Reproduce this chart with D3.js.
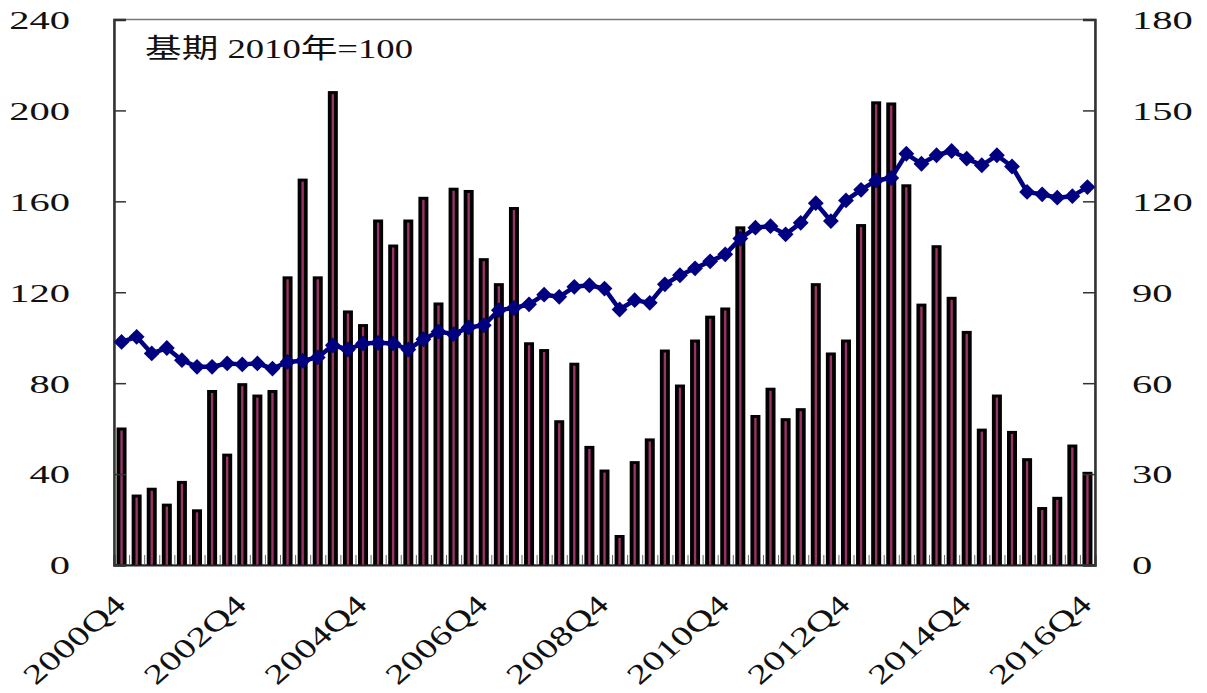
<!DOCTYPE html>
<html>
<head>
<meta charset="utf-8">
<script src="https://cdn.jsdelivr.net/npm/d3@7"></script>
<style>
  body { margin: 0; background: #fff; }
  text { font-family: "Liberation Serif", "Times New Roman", serif; fill: #111; }
</style>
</head>
<body>
<div id="chart"></div>
<script>
// Quarters 2000Q4 .. 2016Q4
const quarters = ['2000Q4'];
for (let y = 2001; y <= 2016; y++) {
  for (let q = 1; q <= 4; q++) quarters.push(y + 'Q' + q);
}

const tickLabels = ['2000Q4', '2002Q4', '2004Q4', '2006Q4', '2008Q4',
  '2010Q4', '2012Q4', '2014Q4', '2016Q4'];

// bars, left axis
const barValues = [60.5, 31, 34, 27, 37, 24.5, 77, 49, 80, 75, 77, 127, 170, 127, 208.5,
  112, 106, 152, 141, 152, 162, 115.5, 166, 165, 135, 124, 157.5, 98, 95, 63.7,
  89, 52.4, 42, 13.2, 45.7, 55.7, 94.8, 79.4, 99.2, 109.7, 113.3, 149, 66, 78, 64.6,
  69, 124, 93.5, 99.2, 150, 204, 203.5, 167.5, 115, 140.7, 118, 103, 60, 75, 59,
  47, 25.5, 30, 53, 41];

// line, right axis
const indexValues = [73.6, 75.3, 69.8, 71.6, 67.6, 65.4, 65.4, 66.5, 66.2, 66.5,
  64.8, 67.0, 67.4, 68.5, 72.5, 71.1, 73.1, 73.3, 73.1, 71.1,
  74.5, 77.0, 76.2, 78.4, 79.1, 84.1, 84.8, 86.0, 89.2, 88.5,
  91.8, 92.3, 91.2, 84.3, 87.4, 86.5, 92.6, 95.6, 97.9, 100.2,
  102.5, 107.7, 111.3, 111.8, 109.1, 112.9, 119.4, 113.5, 120.3, 123.8,
  126.9, 127.7, 135.7, 132.4, 135.2, 136.6, 134.1, 131.9, 135.2, 131.5,
  123.1, 122.3, 121.2, 121.7, 124.7];

const leftTicks = [0, 40, 80, 120, 160, 200, 240];
const rightTicks = [0, 30, 60, 90, 120, 150, 180];
const note = '基期 2010年=100';

// layout
const width = 1207;
const height = 693;
const plotL = 114, plotR = 1095, plotT = 19.5, plotB = 565;
const stretch = 1.56;

const svg = d3.select('#chart')
  .append('svg')
  .attr('width', width)
  .attr('height', height);

const x = d3.scaleBand()
  .domain(quarters)
  .range([plotL, plotR])
  .padding(0);

const yLeft = d3.scaleLinear().domain([0, 240]).range([plotB, plotT]);
const yRight = d3.scaleLinear().domain([0, 180]).range([plotB, plotT]);

const cx = d => x(d) + x.bandwidth() / 2;

// frame
svg.append('rect')
  .attr('x', plotL).attr('y', plotT)
  .attr('width', plotR - plotL).attr('height', plotB - plotT)
  .attr('fill', 'none')
  .attr('stroke', '#777')
  .attr('stroke-width', 1.5);

// bars: black body with a thin maroon core
const barW = 10;
const bars = svg.append('g');
bars.selectAll('rect.body')
  .data(barValues)
  .enter()
  .append('rect')
  .attr('class', 'body')
  .attr('x', (d, i) => cx(quarters[i]) - barW / 2)
  .attr('y', d => yLeft(d))
  .attr('width', barW)
  .attr('height', d => plotB - yLeft(d))
  .attr('fill', '#000');

bars.selectAll('rect.core')
  .data(barValues)
  .enter()
  .append('rect')
  .attr('class', 'core')
  .attr('x', (d, i) => cx(quarters[i]) - 1.2)
  .attr('y', d => yLeft(d) + 3)
  .attr('width', 2.4)
  .attr('height', d => Math.max(0, plotB - yLeft(d) - 3))
  .attr('fill', '#9a3366');

// small category ticks along the bottom
const xEdge = d3.scaleLinear().domain([0, quarters.length]).range([plotL, plotR]);
const xAxis = svg.append('g')
  .attr('transform', `translate(0,${plotB})`)
  .call(d3.axisBottom(xEdge)
    .tickValues(d3.range(1, quarters.length))
    .tickSize(-10)
    .tickFormat(''));
xAxis.select('.domain').attr('stroke', '#222').attr('stroke-width', 2);
xAxis.selectAll('.tick line').attr('stroke', '#666');

// rotated year labels
svg.append('g')
  .selectAll('text')
  .data(tickLabels)
  .enter()
  .append('text')
  .attr('text-anchor', 'end')
  .attr('font-size', 27)
  .attr('transform', d => `translate(${cx(d) + 6},${plotB + 41}) scale(1.15,1) rotate(-45) scale(1.3,1)`)
  .text(d => d);

// left axis
const axL = svg.append('g')
  .attr('transform', `translate(${plotL},0)`)
  .call(d3.axisLeft(yLeft).tickValues(leftTicks).tickSize(-12));
axL.select('.domain').attr('stroke', '#333').attr('stroke-width', 2.5);
axL.selectAll('.tick line').attr('stroke', '#333').attr('stroke-width', 1.5);
axL.selectAll('.tick text')
  .attr('x', 0)
  .attr('dy', '0.34em')
  .attr('font-size', 26)
  .attr('text-anchor', 'end')
  .attr('fill', '#111')
  .attr('transform', `translate(-44,0) scale(${stretch},1)`);

// right axis
const axR = svg.append('g')
  .attr('transform', `translate(${plotR},0)`)
  .call(d3.axisRight(yRight).tickValues(rightTicks).tickSize(-12));
axR.select('.domain').attr('stroke', '#333').attr('stroke-width', 2.5);
axR.selectAll('.tick line').attr('stroke', '#333').attr('stroke-width', 1.5);
axR.selectAll('.tick text')
  .attr('x', 0)
  .attr('dy', '0.34em')
  .attr('font-size', 26)
  .attr('text-anchor', 'start')
  .attr('fill', '#111')
  .attr('transform', `translate(37,0) scale(${stretch},1)`);
svg.selectAll('.tick text').style('font-family', '"Liberation Serif", serif');

// index line with diamond markers
const line = d3.line()
  .x((d, i) => cx(quarters[i]))
  .y(d => yRight(d));

svg.append('path')
  .datum(indexValues)
  .attr('d', line)
  .attr('fill', 'none')
  .attr('stroke', '#000080')
  .attr('stroke-width', 4.5)
  .attr('stroke-linejoin', 'round');

svg.append('g')
  .selectAll('path')
  .data(indexValues)
  .enter()
  .append('path')
  .attr('d', d3.symbol(d3.symbolSquare, 125))
  .attr('transform', (d, i) => `translate(${cx(quarters[i])},${yRight(d)}) rotate(45)`)
  .attr('fill', '#000080');

// base-period note
svg.append('text')
  .attr('transform', 'translate(145,58) scale(1.26,1)')
  .attr('font-size', 27)
  .attr('textLength', 268 / 1.26)
  .attr('lengthAdjust', 'spacingAndGlyphs')
  .style('font-family', '"Liberation Serif", "Noto Sans CJK TC", serif')
  .text(note);
</script>
</body>
</html>
